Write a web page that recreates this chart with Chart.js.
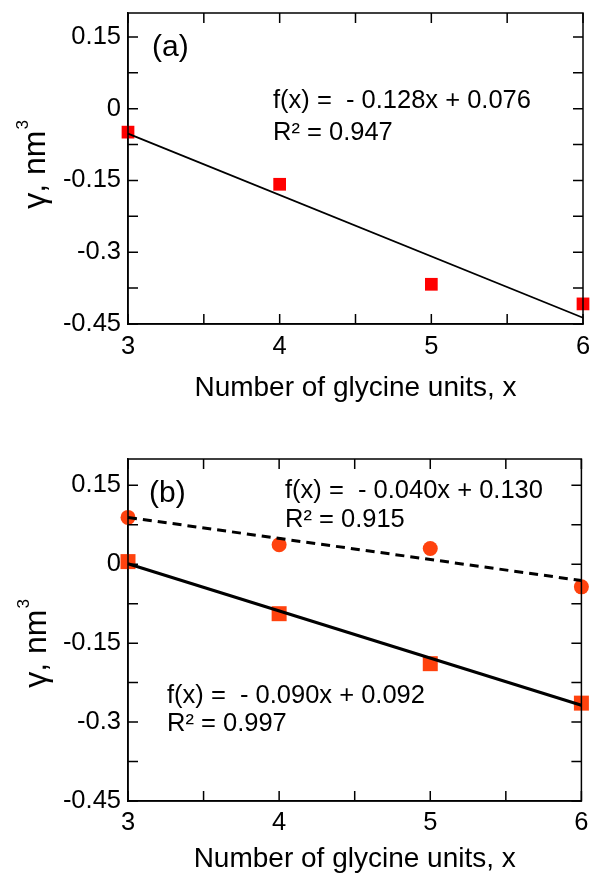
<!DOCTYPE html>
<html>
<head>
<meta charset="utf-8">
<script src="https://cdn.jsdelivr.net/npm/chart.js@4/dist/chart.umd.min.js"></script>
<style>
  html, body { margin: 0; padding: 0; background: #ffffff; }
  #wrap { position: relative; width: 592px; height: 878px; }
  #c1 { position: absolute; left: 0; top: 0; }
  #c2 { position: absolute; left: 0; top: 440px; }
</style>
</head>
<body>
<div id="wrap">
  <canvas id="c1" width="592" height="440"></canvas>
  <canvas id="c2" width="592" height="438"></canvas>
</div>
<script>
// ---- data ----
const glycineUnits = [3, 4, 5, 6];
const gammaA = [-0.049, -0.158, -0.367, -0.408];
const fitAxisX = [3, 6];
const fitA = [-0.052, -0.437];
const gammaBCircles = [0.089, 0.037, 0.030, -0.043];
const fitBDashed = [0.089, -0.031];
const gammaBSquares = [0.005, -0.094, -0.189, -0.264];
const fitBSolid = [0.001, -0.268];
const yTickValues = [-0.45, -0.3, -0.15, 0, 0.15];
const yTickLabels = ['-0.45', '-0.3', '-0.15', '0', '0.15'];
const xTickValues = [3, 4, 5, 6];
const xTickLabels = ['3', '4', '5', '6'];
const yMinorValues = [-0.45, -0.375, -0.3, -0.225, -0.15, -0.075, 0, 0.075, 0.15];
const xMinorValues = [3, 3.5, 4, 4.5, 5, 5.5, 6];
const xTitle = 'Number of glycine units, x';
const yTitleMain = '\u03B3, nm';
const yTitleSup = '3';
const eqA = ['f(x) =  - 0.128x + 0.076', 'R\u00B2 = 0.947'];
const eqBTop = ['f(x) =  - 0.040x + 0.130', 'R\u00B2 = 0.915'];
const eqBBottom = ['f(x) =  - 0.090x + 0.092', 'R\u00B2 = 0.997'];

const FONT = "'Liberation Sans', Arial, sans-serif";

const framePlugin = {
  id: 'frameTicks',
  afterDatasetsDraw(chart, args, opts) {
    const ctx = chart.ctx;
    const a = chart.chartArea;
    const xs = chart.scales.x, ys = chart.scales.y;
    const len = opts.len || 10;
    ctx.save();
    ctx.strokeStyle = '#000';
    ctx.lineWidth = 1.5;
    ctx.strokeRect(a.left, a.top, a.right - a.left, a.bottom - a.top);
    ctx.beginPath();
    opts.xVals.forEach(v => {
      const px = xs.getPixelForValue(v);
      ctx.moveTo(px, a.bottom); ctx.lineTo(px, a.bottom - len);
      ctx.moveTo(px, a.top); ctx.lineTo(px, a.top + len);
    });
    opts.yVals.forEach(v => {
      const py = ys.getPixelForValue(v);
      ctx.moveTo(a.left, py); ctx.lineTo(a.left + len, py);
      ctx.moveTo(a.right, py); ctx.lineTo(a.right - len, py);
    });
    ctx.stroke();
    // annotations
    ctx.fillStyle = '#000';
    ctx.textBaseline = 'alphabetic';
    ctx.textAlign = 'left';
    (opts.texts || []).forEach(t => {
      ctx.font = t.size + 'px ' + FONT;
      ctx.fillText(t.text, t.x, t.y);
    });
    // rotated y-axis title with a real superscript
    const yt = opts.yTitle;
    if (yt) {
      ctx.save();
      ctx.translate(yt.x, yt.y);
      ctx.rotate(-Math.PI / 2);
      ctx.font = yt.size + 'px ' + FONT;
      const w1 = ctx.measureText(yTitleMain).width;
      ctx.font = yt.supSize + 'px ' + FONT;
      const w2 = ctx.measureText(yTitleSup).width;
      const start = -(w1 + w2) / 2;
      ctx.font = yt.size + 'px ' + FONT;
      ctx.fillText(yTitleMain, start, 0);
      ctx.font = yt.supSize + 'px ' + FONT;
      ctx.fillText(yTitleSup, start + w1 + 1, -yt.raise);
      ctx.restore();
    }
    ctx.restore();
  }
};

function zeroPad(s) { s.paddingTop = 0; s.paddingBottom = 0; s.paddingLeft = 0; s.paddingRight = 0; }

function makeScales(xAxisHeight, xTitlePadBottom, xTickPad) {
  return {
    x: {
      type: 'linear',
      min: 3, max: 6,
      afterBuildTicks: s => { s.ticks = xTickValues.map(v => ({ value: v })); },
      afterFit: s => { s.height = xAxisHeight; zeroPad(s); },
      grid: { display: false, drawTicks: false },
      border: { display: true, color: '#000', width: 1.5 },
      ticks: {
        color: '#000', padding: xTickPad, maxRotation: 0, autoSkip: false,
        font: { family: FONT, size: 25.5 },
        callback: (v) => xTickLabels[xTickValues.indexOf(v)]
      },
      title: {
        display: true, text: xTitle, color: '#000',
        font: { family: FONT, size: 28 },
        padding: { top: 0, bottom: xTitlePadBottom }
      }
    },
    y: {
      type: 'linear',
      min: -0.45, max: 0.2,
      afterBuildTicks: s => { s.ticks = yTickValues.map(v => ({ value: v })); },
      afterFit: s => { s.width = 128; zeroPad(s); },
      grid: { display: false, drawTicks: false },
      border: { display: true, color: '#000', width: 1.5 },
      ticks: {
        color: '#000', padding: 7, autoSkip: false,
        font: { family: FONT, size: 25.5 },
        callback: (v) => yTickLabels[yTickValues.indexOf(v)]
      },
      title: { display: false }
    }
  };
}

const pts = (xs, ys) => xs.map((x, i) => ({ x: x, y: ys[i] }));

new Chart(document.getElementById('c1'), {
  type: 'scatter',
  data: {
    datasets: [
      {
        type: 'line', data: pts(fitAxisX, fitA),
        borderColor: '#000', borderWidth: 1.8, pointRadius: 0, fill: false, clip: false
      },
      {
        data: pts(glycineUnits, gammaA),
        pointStyle: 'rect', pointRadius: 9, backgroundColor: '#ff0000',
        borderColor: '#ff0000', borderWidth: 0, clip: false
      }
    ]
  },
  options: {
    responsive: false, animation: false, devicePixelRatio: 1,
    layout: { padding: { left: 0, right: 9, top: 13, bottom: 0 } },
    plugins: {
      legend: { display: false }, tooltip: { enabled: false },
      frameTicks: {
        xVals: xMinorValues, yVals: yMinorValues, len: 10,
        yTitle: { x: 45, y: 165, size: 32, supSize: 17, raise: 17 },
        texts: [
          { text: '(a)', x: 152, y: 56, size: 30 },
          { text: eqA[0], x: 273, y: 108, size: 25.5 },
          { text: eqA[1], x: 273, y: 140, size: 25.5 }
        ]
      }
    },
    scales: makeScales(116, 35, 8)
  },
  plugins: [framePlugin]
});

new Chart(document.getElementById('c2'), {
  type: 'scatter',
  data: {
    datasets: [
      {
        type: 'line', data: pts(fitAxisX, fitBDashed),
        borderColor: '#000', borderWidth: 3, borderDash: [9, 6], pointRadius: 0, fill: false, clip: false
      },
      {
        type: 'line', data: pts(fitAxisX, fitBSolid),
        borderColor: '#000', borderWidth: 3, pointRadius: 0, fill: false, clip: false
      },
      {
        data: pts(glycineUnits, gammaBCircles),
        pointStyle: 'circle', pointRadius: 7.5, backgroundColor: '#ff420e',
        borderColor: '#ff420e', borderWidth: 0, clip: false
      },
      {
        data: pts(glycineUnits, gammaBSquares),
        pointStyle: 'rect', pointRadius: 10.6, backgroundColor: '#ff420e',
        borderColor: '#ff420e', borderWidth: 0, clip: false
      }
    ]
  },
  options: {
    responsive: false, animation: false, devicePixelRatio: 1,
    layout: { padding: { left: 0, right: 10, top: 19, bottom: 0 } },
    plugins: {
      legend: { display: false }, tooltip: { enabled: false },
      frameTicks: {
        xVals: xMinorValues, yVals: yMinorValues, len: 10,
        yTitle: { x: 46, y: 204, size: 32, supSize: 17, raise: 17 },
        texts: [
          { text: '(b)', x: 149, y: 62, size: 30 },
          { text: eqBTop[0], x: 285, y: 58, size: 25.5 },
          { text: eqBTop[1], x: 285, y: 87, size: 25.5 },
          { text: eqBBottom[0], x: 167, y: 263, size: 25.5 },
          { text: eqBBottom[1], x: 167, y: 291, size: 25.5 }
        ]
      }
    },
    scales: makeScales(77, 2, 7)
  },
  plugins: [framePlugin]
});
</script>
</body>
</html>
